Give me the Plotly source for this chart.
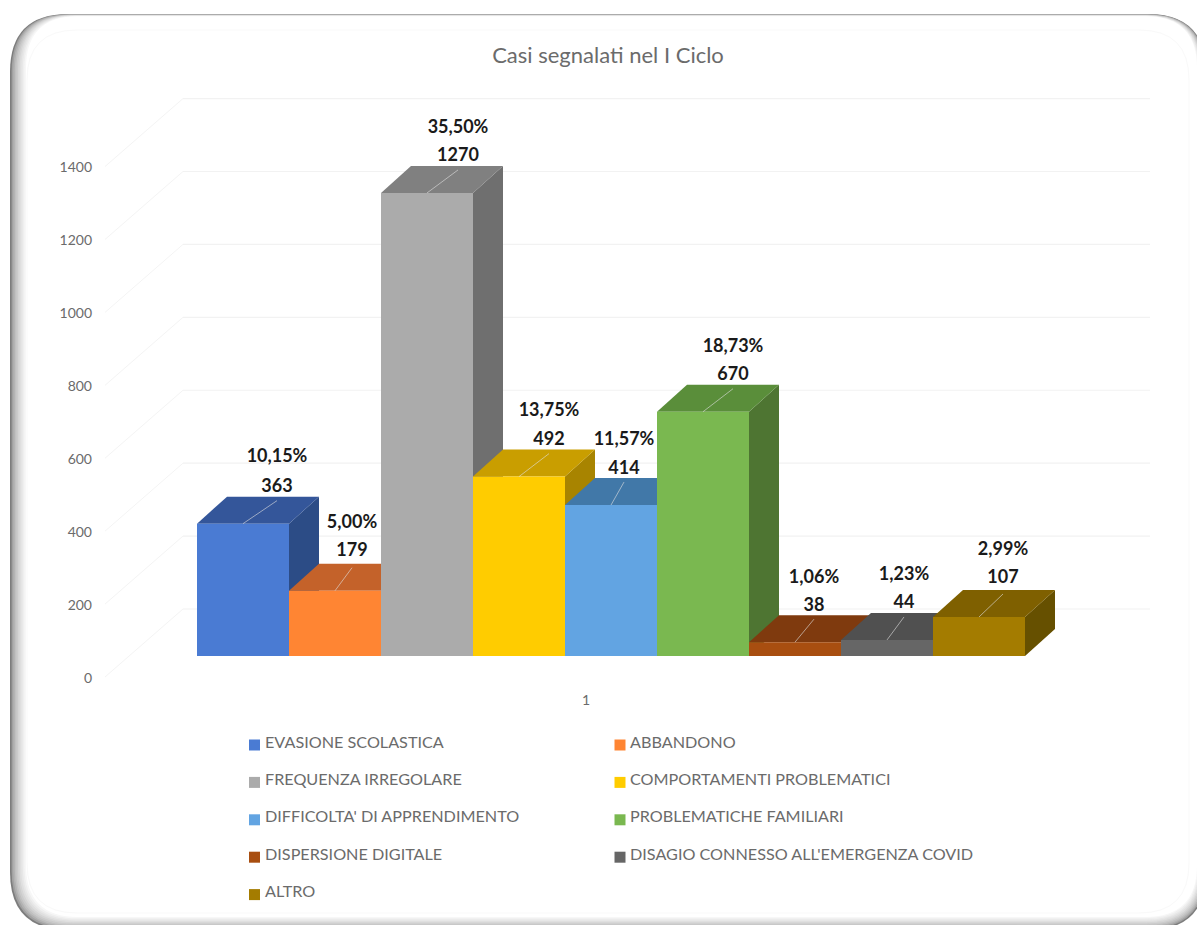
import plotly.graph_objects as go

# ---------- data ----------
CATEGORIES = ["EVASIONE SCOLASTICA", "ABBANDONO", "FREQUENZA IRREGOLARE",
              "COMPORTAMENTI PROBLEMATICI", "DIFFICOLTA' DI APPRENDIMENTO",
              "PROBLEMATICHE FAMILIARI", "DISPERSIONE DIGITALE",
              "DISAGIO CONNESSO ALL'EMERGENZA COVID", "ALTRO"]
VALUES = [363, 179, 1270, 492, 414, 670, 38, 44, 107]
PERCENTS = ["10,15%", "5,00%", "35,50%", "13,75%", "11,57%", "18,73%", "1,06%", "1,23%", "2,99%"]
TICKS = [0, 200, 400, 600, 800, 1000, 1200, 1400]
X_LABEL = "1"
TITLE = "Casi segnalati nel I Ciclo"

# ---------- styles ----------
FRONT = ["#4A7BD3", "#FF8533", "#ABABAB", "#FFCC00", "#62A4E2", "#7AB850", "#A84E10", "#666666", "#A47C00"]
TOP = ["#34569A", "#C4622A", "#808080", "#C99E00", "#4178A8", "#5A8E3A", "#7F3A0E", "#505050", "#7F6000"]
SIDE = ["#2C4C86", "#A8521C", "#6F6F6F", "#A88400", "#3A6E9E", "#4E7532", "#6C320C", "#444444", "#665000"]
LABEL_DX_PX = [34, 17, 31, 30, 13, 30, 19, 17, 24]
LABEL_DY_PX = [36, 39, 36, 36, 36, 36, 36, 36, 38]
LABEL_GAP_PX = [30, 28, 28, 29, 29, 28, 28, 28, 28]

W, H = 1197, 925
X0_PX, UNIT_PX = 197.0, 92.0       # px of x=0, px per bar
Y0_PX, VAL_PX = 656.0, 0.3646      # px of value 0, px per value unit
DEPTH_X, DEPTH_Y = 30 / UNIT_PX, 27 / VAL_PX
X_RANGE = [-X0_PX / UNIT_PX, (W - X0_PX) / UNIT_PX]
Y_RANGE = [(Y0_PX - H) / VAL_PX, Y0_PX / VAL_PX]
TEXT = "#6B6B6B"
FONT = "Lato"


def xu(px):
    return (px - X0_PX) / UNIT_PX


def vu(px):
    return px / VAL_PX


def fx(px):
    return px / W


def fy(py):
    return 1 - py / H


fig = go.Figure()

# side wall grid (fainter) and back wall grid
side_x, side_y, back_x, back_y = [], [], [], []
for t in TICKS:
    side_x += [xu(105), xu(183), None]
    side_y += [t - vu(21), t + vu(47), None]
    back_x += [xu(183), xu(1150), None]
    back_y += [t + vu(47), t + vu(47), None]
fig.add_trace(go.Scatter(x=side_x, y=side_y, mode="lines", line=dict(color="#F4F4F4", width=1),
                         hoverinfo="skip", showlegend=False))
fig.add_trace(go.Scatter(x=back_x, y=back_y, mode="lines", line=dict(color="#F2F2F2", width=1.2),
                         hoverinfo="skip", showlegend=False))

# side and top faces, behind the fronts, in bar order
for i, v in enumerate(VALUES):
    l, r = i, i + 1
    fig.add_trace(go.Scatter(x=[r, r + DEPTH_X, r + DEPTH_X, r, r], y=[0, DEPTH_Y, v + DEPTH_Y, v, 0],
                             mode="none", fill="toself", fillcolor=SIDE[i], hoverinfo="skip", showlegend=False))
    fig.add_trace(go.Scatter(x=[l, r, r + DEPTH_X, l + DEPTH_X, l], y=[v, v, v + DEPTH_Y, v + DEPTH_Y, v],
                             mode="none", fill="toself", fillcolor=TOP[i], hoverinfo="skip", showlegend=False))

# front faces
for i, (c, v) in enumerate(zip(CATEGORIES, VALUES)):
    fig.add_trace(go.Bar(x=[i + 0.5], y=[v], width=1, name=c, marker=dict(color=FRONT[i], line=dict(width=0)),
                         xaxis="x2", yaxis="y2", showlegend=False))

# leader lines
lx, ly = [], []
for i, v in enumerate(VALUES):
    lx += [i + 0.5, i + 0.5 + LABEL_DX_PX[i] / UNIT_PX, None]
    ly += [v, v + vu(23), None]
fig.add_trace(go.Scatter(x=lx, y=ly, mode="lines", line=dict(color="rgba(225,225,225,0.6)", width=1),
                         xaxis="x2", yaxis="y2", hoverinfo="skip", showlegend=False))

# data labels
lab_x = [i + 0.5 + LABEL_DX_PX[i] / UNIT_PX for i in range(len(VALUES))]
lab_font = dict(family=FONT, size=18, color="#1A1A1A", weight="bold")
fig.add_trace(go.Scatter(x=lab_x, y=[v + vu(d) for v, d in zip(VALUES, LABEL_DY_PX)],
                         text=[str(v) for v in VALUES], mode="text", textposition="middle center",
                         textfont=lab_font, xaxis="x2", yaxis="y2", hoverinfo="skip", showlegend=False))
fig.add_trace(go.Scatter(x=lab_x, y=[v + vu(d + g) for v, d, g in zip(VALUES, LABEL_DY_PX, LABEL_GAP_PX)],
                         text=PERCENTS, mode="text", textposition="middle center",
                         textfont=lab_font, xaxis="x2", yaxis="y2", hoverinfo="skip", showlegend=False))

# invisible carrier for the value axis
fig.add_trace(go.Scatter(x=[None] * len(TICKS), y=TICKS, mode="lines", xaxis="x", yaxis="y3",
                         hoverinfo="skip", showlegend=False))


# ---------- frame ----------
def rrect(l, t, r, b, rad):
    return (f"M{fx(l)},{fy(t + rad)} Q{fx(l)},{fy(t)} {fx(l + rad)},{fy(t)} L{fx(r - rad)},{fy(t)} "
            f"Q{fx(r)},{fy(t)} {fx(r)},{fy(t + rad)} L{fx(r)},{fy(b - rad)} Q{fx(r)},{fy(b)} {fx(r - rad)},{fy(b)} "
            f"L{fx(l + rad)},{fy(b)} Q{fx(l)},{fy(b)} {fx(l)},{fy(b - rad)} Z")


shapes = []
STEPS = 10
for k in range(STEPS + 1):
    g = int(125 + (255 - 125) * (k / STEPS) ** 0.55)
    shapes.append(dict(type="path", xref="paper", yref="paper", layer="below", line=dict(width=0),
                       fillcolor=f"rgb({g},{g},{g})",
                       path=rrect(10 + k * 1.6, 14 + k * 0.22, 1206 - k * 0.9, 930 - k * 1.3, 58 - k * 0.6)))
shapes.append(dict(type="path", xref="paper", yref="paper", layer="below",
                   line=dict(width=1, color="#F9F9F9"), fillcolor="#FFFFFF",
                   path=rrect(27, 30, 1189, 913, 50)))

# ---------- legend ----------
annotations = []
for i, (c, col) in enumerate(zip(CATEGORIES, FRONT)):
    row, column = i // 2, i % 2
    mx = 249 + column * 365.5
    my = 745 + row * 37.4
    shapes.append(dict(type="rect", xref="paper", yref="paper", line=dict(width=0), fillcolor=col,
                       x0=fx(mx), x1=fx(mx + 11), y0=fy(my - 5.5), y1=fy(my + 5.5)))
    annotations.append(dict(text=c, xref="paper", yref="paper", x=fx(mx + 14 - column * 0.5), y=fy(my - 4),
                            showarrow=False, xanchor="left", yanchor="middle",
                            font=dict(family=FONT, size=16.2, color=TEXT)))

fig.update_layout(
    width=W, height=H, margin=dict(l=0, r=0, t=0, b=0, pad=0), autosize=False,
    paper_bgcolor="white", plot_bgcolor="rgba(0,0,0,0)", barmode="overlay", showlegend=False,
    title=dict(text=TITLE, x=fx(608), y=fy(55), xanchor="center", yanchor="middle", xref="paper", yref="paper",
               font=dict(family=FONT, size=22, color=TEXT)),
    xaxis=dict(range=X_RANGE, visible=False, fixedrange=True),
    yaxis=dict(range=Y_RANGE, visible=False, fixedrange=True),
    xaxis2=dict(range=X_RANGE, overlaying="x", anchor="free", position=fy(690), showgrid=False, zeroline=False,
                showline=False, ticks="", tickvals=[xu(586)], ticktext=[X_LABEL], fixedrange=True,
                tickfont=dict(family=FONT, size=14, color=TEXT)),
    yaxis2=dict(range=Y_RANGE, overlaying="y", visible=False, fixedrange=True),
    yaxis3=dict(range=[Y_RANGE[0] + vu(22), Y_RANGE[1] + vu(22)], overlaying="y", anchor="free", position=fx(92),
                side="left", tickvals=TICKS, showgrid=False, zeroline=False, showline=False, ticks="",
                fixedrange=True, tickfont=dict(family=FONT, size=14, color=TEXT)),
    shapes=shapes, annotations=annotations,
)

fig.write_html("out.html", config={"displayModeBar": False},
               post_script="document.body.style.margin='0';document.body.style.overflow='hidden';")
